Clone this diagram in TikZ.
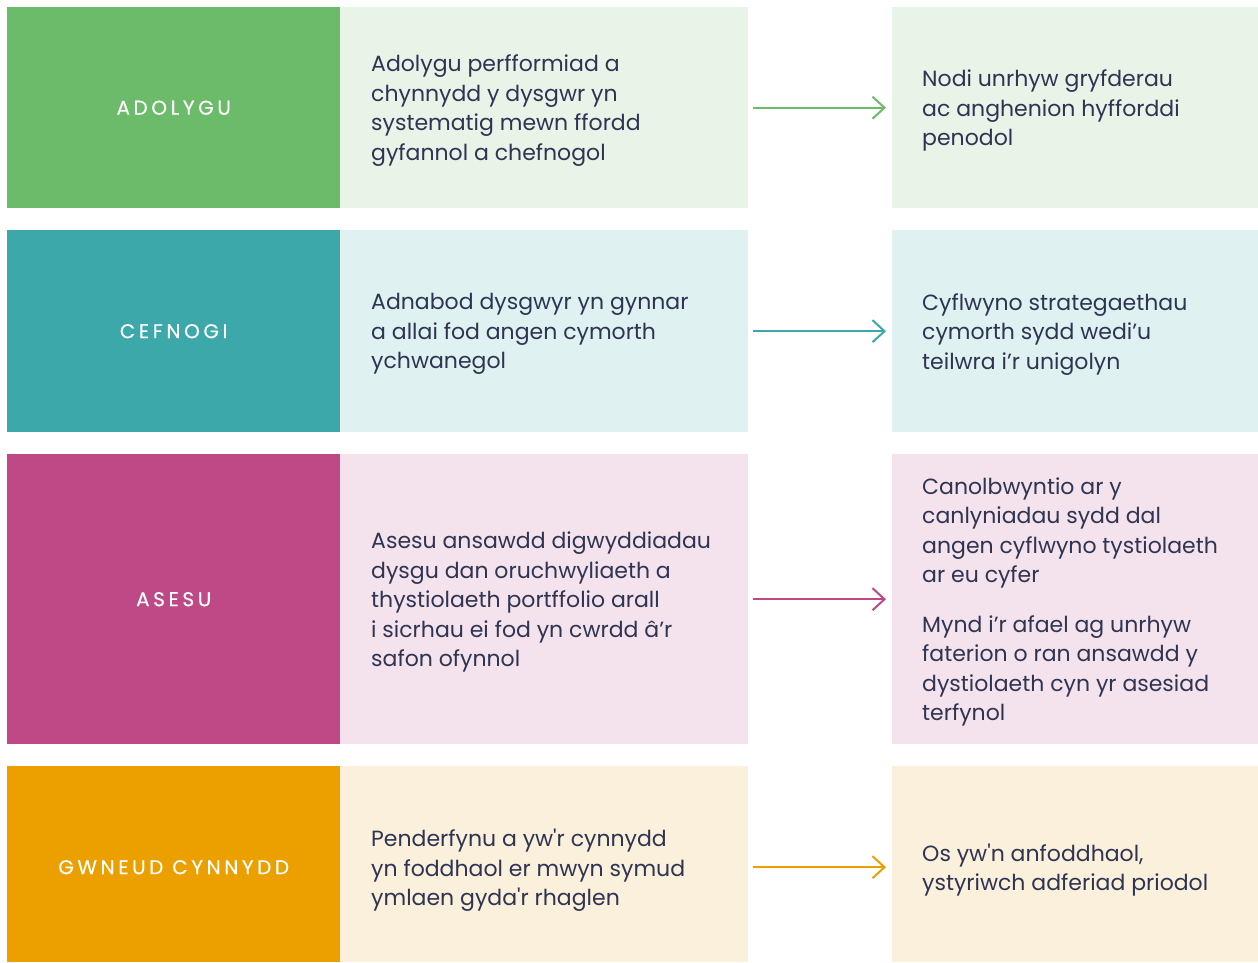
\documentclass[tikz,border=0pt]{standalone}
\usepackage{fontspec}
\newfontfamily\bodyfont{Poppins}
\newfontfamily\labfont[LetterSpace=18,FakeBold=0.3]{Poppins}
\usetikzlibrary{arrows.meta}
\definecolor{gA}{HTML}{6CBB6A}\definecolor{gL}{HTML}{E8F4E8}
\definecolor{tA}{HTML}{3DA8AA}\definecolor{tL}{HTML}{E0F1F1}
\definecolor{mA}{HTML}{BF4886}\definecolor{mL}{HTML}{F4E3EC}
\definecolor{oA}{HTML}{ECA000}\definecolor{oL}{HTML}{FBF0DC}
\definecolor{ink}{HTML}{2E3452}
\tikzset{
  box/.style={draw=none,inner sep=0pt,anchor=north west},
  labbox/.style={box,minimum width=333pt},
  midbox/.style={box,minimum width=408pt},
  rbox/.style={box,minimum width=366pt},
  labtxt/.style={text=white,font=\labfont\fontsize{20}{24}\selectfont},
  bodytxt/.style={text=ink,anchor=west,align=left,inner sep=0pt,font=\bodyfont\fontsize{22}{29.5}\selectfont},
  conn/.style={line width=2pt,-{Straight Barb[length=12pt,width=22pt,line width=2pt]},shorten <=5pt,shorten >=6pt},
}
\begin{document}
\begin{tikzpicture}[x=1pt,y=-1pt]
\useasboundingbox (0,0) rectangle (1258,962);
% Row 1
\node[labbox,fill=gA,minimum height=201pt] (l1) at (7,7) {};
\node[midbox,fill=gL,minimum height=201pt] (m1) at (340,7) {};
\node[rbox,fill=gL,minimum height=201pt] (r1) at (892,7) {};
\node[labtxt] (lt1) at (l1.center) {ADOLYGU};
\node[bodytxt] (mt1) at ([xshift=31pt,yshift=-3pt]m1.west) {Adolygu perfformiad a\\chynnydd y dysgwr yn\\systematig mewn ffordd\\gyfannol a chefnogol};
\node[bodytxt] (rt1) at ([xshift=30pt,yshift=-3pt]r1.west) {Nodi unrhyw gryfderau\\ac anghenion hyfforddi\\penodol};
\draw[conn,gA] (m1.east) -- (r1.west);
% Row 2
\node[labbox,fill=tA,minimum height=202pt] (l2) at (7,230) {};
\node[midbox,fill=tL,minimum height=202pt] (m2) at (340,230) {};
\node[rbox,fill=tL,minimum height=202pt] (r2) at (892,230) {};
\node[labtxt] (lt2) at (l2.center) {CEFNOGI};
\node[bodytxt] (mt2) at ([xshift=31pt,yshift=-3pt]m2.west) {Adnabod dysgwyr yn gynnar\\a allai fod angen cymorth\\ychwanegol};
\node[bodytxt] (rt2) at ([xshift=30pt,yshift=-3pt]r2.west) {Cyflwyno strategaethau\\cymorth sydd wedi’u\\teilwra i’r unigolyn};
\draw[conn,tA] (m2.east) -- (r2.west);
% Row 3
\node[labbox,fill=mA,minimum height=290pt] (l3) at (7,454) {};
\node[midbox,fill=mL,minimum height=290pt] (m3) at (340,454) {};
\node[rbox,fill=mL,minimum height=290pt] (r3) at (892,454) {};
\node[labtxt] (lt3) at (l3.center) {ASESU};
\node[bodytxt] (mt3) at ([xshift=31pt,yshift=-3pt]m3.west) {Asesu ansawdd digwyddiadau\\dysgu dan oruchwyliaeth a\\thystiolaeth portffolio arall\\i sicrhau ei fod yn cwrdd â’r\\safon ofynnol};
\node[bodytxt] (rt3) at ([xshift=30pt,yshift=-3pt]r3.west) {Canolbwyntio ar y\\canlyniadau sydd dal\\angen cyflwyno tystiolaeth\\ar eu cyfer\\[20pt]Mynd i’r afael ag unrhyw\\faterion o ran ansawdd y\\dystiolaeth cyn yr asesiad\\terfynol};
\draw[conn,mA] (m3.east) -- (r3.west);
% Row 4
\node[labbox,fill=oA,minimum height=196pt] (l4) at (7,766) {};
\node[midbox,fill=oL,minimum height=196pt] (m4) at (340,766) {};
\node[rbox,fill=oL,minimum height=196pt] (r4) at (892,766) {};
\node[labtxt] (lt4) at ([yshift=-3pt]l4.center) {GWNEUD CYNNYDD};
\node[bodytxt] (mt4) at ([xshift=31pt,yshift=-6pt]m4.west) {Penderfynu a yw'r cynnydd\\yn foddhaol er mwyn symud\\ymlaen gyda'r rhaglen};
\node[bodytxt] (rt4) at ([xshift=30pt,yshift=-6pt]r4.west) {Os yw'n anfoddhaol,\\ystyriwch adferiad priodol};
\draw[conn,oA] ([yshift=-3pt]m4.east) -- ([yshift=-3pt]r4.west);
\end{tikzpicture}
\end{document}
